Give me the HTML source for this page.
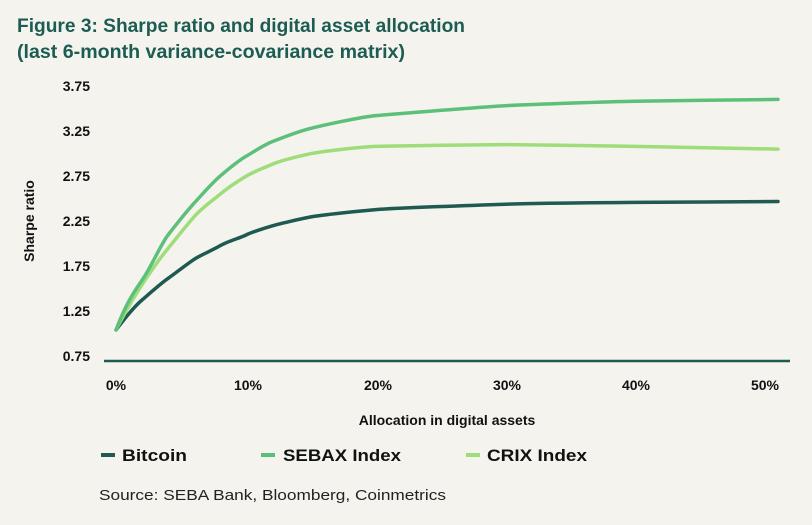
<!DOCTYPE html>
<html><head><meta charset="utf-8"><style>
html,body{margin:0;padding:0;background:#f4f3ee;}
body{width:812px;height:520px;overflow:hidden;font-family:"Liberation Sans",sans-serif;}
</style></head><body>
<svg width="812" height="520" xmlns="http://www.w3.org/2000/svg">
<rect width="812" height="520" fill="#f4f3ee"/>
<g font-family="Liberation Sans, sans-serif" font-weight="bold" fill="#1d5c52" font-size="19">
<text x="17" y="32" textLength="448" lengthAdjust="spacingAndGlyphs">Figure 3: Sharpe ratio and digital asset allocation</text>
<text x="17" y="58" textLength="388" lengthAdjust="spacingAndGlyphs">(last 6-month variance-covariance matrix)</text>
</g>
<g font-family="Liberation Sans, sans-serif" font-weight="bold" fill="#111" font-size="14" text-anchor="end">
<text x="90" y="91">3.75</text>
<text x="90" y="136">3.25</text>
<text x="90" y="181">2.75</text>
<text x="90" y="226">2.25</text>
<text x="90" y="271">1.75</text>
<text x="90" y="316">1.25</text>
<text x="90" y="361">0.75</text>
</g>
<text transform="translate(34,221) rotate(-90)" text-anchor="middle" font-family="Liberation Sans, sans-serif" font-weight="bold" font-size="14" fill="#111">Sharpe ratio</text>
<line x1="104" y1="361" x2="790" y2="361" stroke="#1e5a50" stroke-width="2.5"/>
<g font-family="Liberation Sans, sans-serif" font-weight="bold" fill="#111" font-size="14" text-anchor="middle">
<text x="116" y="390">0%</text>
<text x="248" y="390">10%</text>
<text x="378" y="390">20%</text>
<text x="507" y="390">30%</text>
<text x="636" y="390">40%</text>
<text x="765" y="390">50%</text>
<text x="447" y="425">Allocation in digital assets</text>
</g>
<g fill="none" stroke-width="3.5" stroke-linejoin="round" stroke-linecap="round">
<path stroke="#1e5a50" d="M116,329.9 C128,314 135,306 142,300 S160,284 168,278.4 S187,264 194,259.4 S213,250 220,245.8 S240,238 246,235 S265,228 272,225.9 S300,219 311,216.9 S360,211 376,209.6 S480,205 505,204.2 S610,202.6 635,202.4 S760,201.6 778,201.5"/>
<path stroke="#9edd7a" d="M116,329.9 C126,310 134,297 142,284.7 S161,257 168,248.5 S186,226 194,216.9 S212,201 220,194.3 S238,181 246,176.2 S264,168 272,164.4 S300,156 311,153.6 S360,147 376,146.4 S480,144.6 505,144.6 S610,146 635,146.4 S760,148.8 778,149.1"/>
<path stroke="#5cc07a" d="M116,329.9 C125,306 133,293 142,280.2 S161,244 168,235 S186,212 194,203.3 S212,183 220,176.2 S238,161 246,156.3 S264,145 272,141.8 S300,131 311,128.3 S360,117 376,115.6 S480,107 505,105.7 S610,101.6 635,101.2 S760,99.5 778,99.4"/>
</g>
<g stroke-width="4">
<line x1="101" y1="455" x2="115" y2="455" stroke="#1e5a50"/>
<line x1="261" y1="455" x2="275" y2="455" stroke="#5cc07a"/>
<line x1="466" y1="455" x2="480" y2="455" stroke="#9edd7a"/>
</g>
<g font-family="Liberation Sans, sans-serif" font-weight="bold" fill="#111" font-size="17">
<text x="122" y="461" textLength="65" lengthAdjust="spacingAndGlyphs">Bitcoin</text>
<text x="283" y="461" textLength="118" lengthAdjust="spacingAndGlyphs">SEBAX Index</text>
<text x="487" y="461" textLength="100" lengthAdjust="spacingAndGlyphs">CRIX Index</text>
</g>
<text x="99" y="500" font-family="Liberation Sans, sans-serif" font-size="15" fill="#222" textLength="347" lengthAdjust="spacingAndGlyphs">Source: SEBA Bank, Bloomberg, Coinmetrics</text>
</svg>
</body></html>
